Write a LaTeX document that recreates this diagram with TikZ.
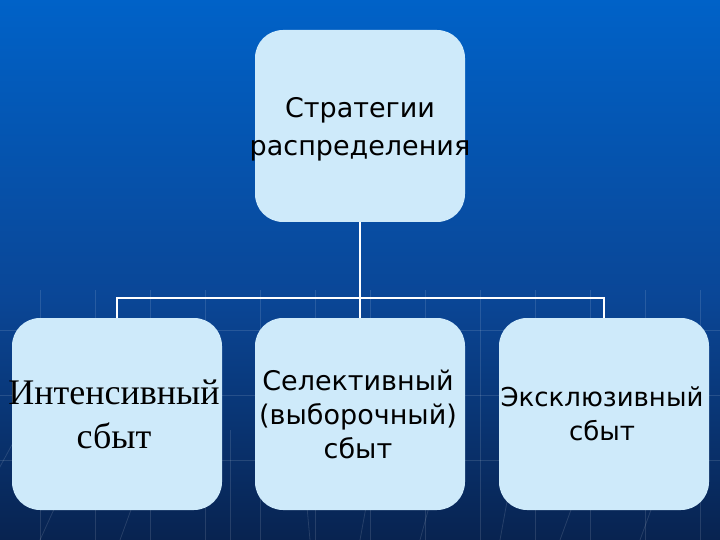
\documentclass[tikz,border=0pt]{standalone}
\usepackage{fontspec}
\setmainfont{DejaVu Sans}
\newfontfamily\serifrus{Liberation Serif}
\usetikzlibrary{positioning}
\definecolor{bgtop}{RGB}{0,98,200}
\definecolor{bgmid}{RGB}{10,70,150}
\definecolor{bgbot}{RGB}{8,35,80}
\definecolor{boxfill}{RGB}{206,234,250}
\begin{document}
\begin{tikzpicture}[x=1pt,y=-1pt,
  card/.style={draw=none,fill=boxfill,rounded corners=28pt,minimum width=210pt,minimum height=192pt,inner sep=0pt,align=center,text=black},
  cardtext/.style={align=center,text=black,inner sep=0pt},
  link/.style={draw=white,line width=1.6pt},
  faint/.style={draw=white,opacity=0.12,line width=0.8pt}]
\useasboundingbox (0,0) rectangle (720,540);
\shade[top color=bgtop,bottom color=bgmid] (0,0) rectangle (720,300);
\shade[top color=bgmid,bottom color=bgbot] (0,300) rectangle (720,540);
% faint grid
\foreach \yy in {330,395,460} \draw[faint] (0,\yy) -- (720,\yy);
\foreach \xx in {40,95,150,205,260,315,370,425,480,535,590,645,700} \draw[faint] (\xx,290) -- (\xx,540);
\foreach \xx/\tx in {20/-40,90/40,160/120,230/230,300/310,380/360,450/420,520/500,600/560,680/640} \draw[faint] (\xx,430) -- (\tx,540);
% nodes
\node[card] (top) at (360,126) {};
\node[cardtext,font=\fontsize{27}{38}\selectfont] (toptext) at (360,129) {Стратегии\\распределения};
\node[card] (left) at (117,414) {};
\node[cardtext,font=\serifrus\fontsize{36}{44}\selectfont] (lefttext) at (114,414) {Интенсивный\\сбыт};
\node[card] (mid) at (360,414) {};
\node[cardtext,font=\fontsize{27}{34}\selectfont] (midtext) at (358,414) {Селективный\\(выборочный)\\сбыт};
\node[card] (right) at (604,414) {};
\node[cardtext,font=\fontsize{26}{34}\selectfont] (righttext) at (602,414) {Эксклюзивный\\сбыт};
% connectors
\coordinate (bus) at (360,298);
\draw[link] (top.south) -- (bus);
\draw[link] (left.north) |- (bus) -| (right.north);
\draw[link] (bus) -- (mid.north);
\end{tikzpicture}
\end{document}
